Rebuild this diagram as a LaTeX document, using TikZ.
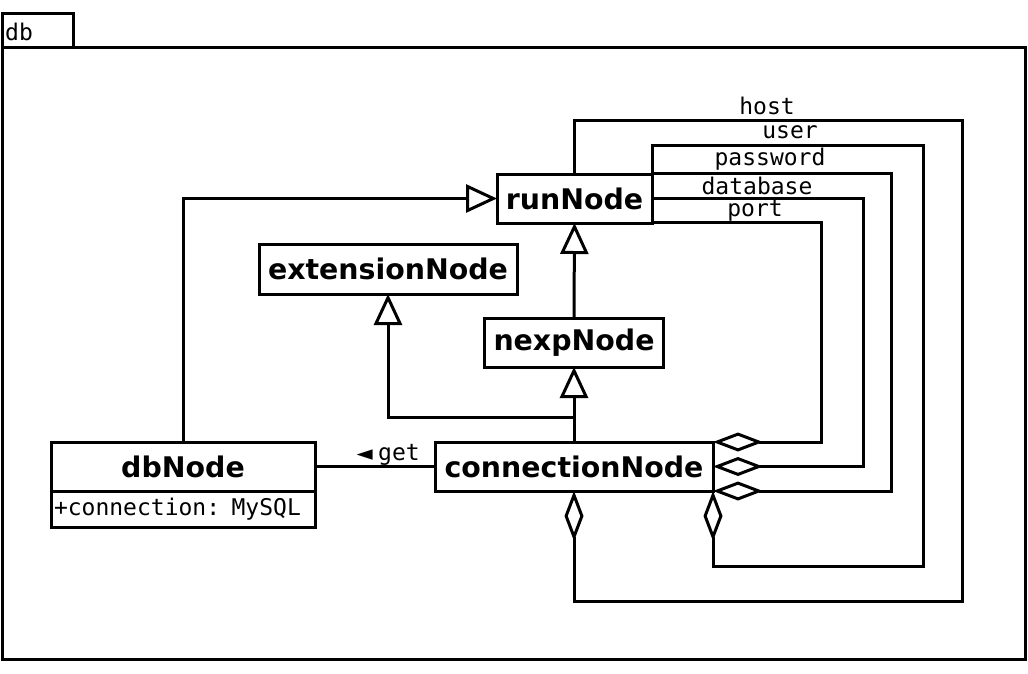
\documentclass[tikz,border=0pt]{standalone}
\usepackage{fontspec}
\setmainfont{DejaVu Sans}
\newfontfamily\monof{DejaVu Sans Mono}
\usetikzlibrary{arrows.meta}
\begin{document}
\begin{tikzpicture}[x=1pt,y=-1pt,
  cls/.style={draw, line width=3pt, inner sep=0pt, fill=white, outer sep=0pt,
    font=\fontsize{28.4}{30}\selectfont\bfseries},
  lbl/.style={inner sep=0pt, font=\fontsize{23}{26}\selectfont\monof},
  conn/.style={line width=3pt},
  gen/.style={conn, -{Triangle[open, length=31pt, width=28pt, fill=white]}},
  aggr/.style={conn, {Diamond[open, length=50pt, width=19pt, fill=white]}-}
]
\useasboundingbox (0,0) rectangle (1028,673);
% package frame
\draw[line width=3pt] (2,47) rectangle (1025,659);
\draw[line width=3pt] (2,13) rectangle (73,47);
\node[lbl, anchor=west] (pkg) at (5,32) {db};

% classes
\node[cls, minimum width=155pt, minimum height=49pt] (runNode) at (574.5,198.5) {runNode};
\node[cls, minimum width=258pt, minimum height=50pt] (extensionNode) at (388,269) {extensionNode};
\node[cls, minimum width=179pt, minimum height=49pt] (nexpNode) at (574,342.5) {nexpNode};
\node[cls, minimum width=278pt, minimum height=49pt] (connectionNode) at (574,466.5) {connectionNode};
\node[cls, minimum width=264pt, minimum height=49pt] (dbNode) at (183,466.5) {dbNode};
\node[cls, font=\fontsize{23}{26}\selectfont\monof, minimum width=264pt, minimum height=36pt,
  anchor=north, text width=258pt, align=left] (dbAttr) at (dbNode.south) {+connection: MySQL};

% generalizations
\draw[gen] (dbNode.north) |- (runNode.west);
\draw[gen] (nexpNode.north) -- (runNode.south);
\draw[gen] (connectionNode.north) -- (nexpNode.south);
\draw[gen] (connectionNode.north) -- ++(0,-25) -| (extensionNode.south);

% association
\draw[conn] (dbNode.east) -- (connectionNode.west);
\node[inner sep=0pt, anchor=east, font=\fontsize{21}{24}\selectfont] (getarrow) at (373,455) {◄};
\node[lbl, anchor=west] (getlbl) at (378,455) {get};

% aggregations
\draw[aggr] (connectionNode.north east) -- ++(108,0) |- ([yshift=1pt]runNode.south east);
\draw[aggr] (connectionNode.east) -- ++(150,0) |- (runNode.east);
\draw[aggr] (connectionNode.south east) -- ++(178,0) |- ([yshift=1pt]runNode.north east);
\draw[aggr] (connectionNode.south east) -- ++(0,75) -- ++(210,0) |- ([yshift=29pt]runNode.north east) -- (runNode.north east);
\draw[aggr] (connectionNode.south) -- ++(0,110) -- ++(388,0) |- ([yshift=54pt]runNode.north) -- (runNode.north);

\node[lbl] (lhost) at (767,106) {host};
\node[lbl] (luser) at (790,132) {user};
\node[lbl] (lpass) at (770,159) {password};
\node[lbl] (ldb) at (757,186) {database};
\node[lbl] (lport) at (755,211) {port};
\end{tikzpicture}
\end{document}
